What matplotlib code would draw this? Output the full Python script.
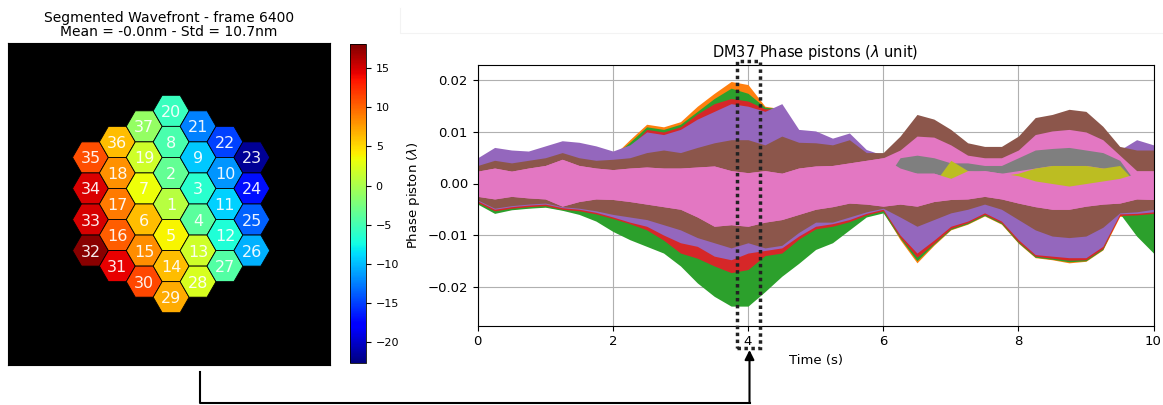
import numpy as np
import matplotlib
matplotlib.use('Agg')
import matplotlib.pyplot as plt
from matplotlib.patches import RegularPolygon, Rectangle, FancyArrowPatch
from matplotlib.collections import PatchCollection
from matplotlib.lines import Line2D

# Segment layout of the DM: columns left to right, segments top to bottom
segment_columns = [
    [35, 34, 33, 32],
    [36, 18, 17, 16, 31],
    [37, 19, 7, 6, 15, 30],
    [20, 8, 2, 1, 5, 14, 29],
    [21, 9, 3, 4, 13, 28],
    [22, 10, 11, 12, 27],
    [23, 24, 25, 26],
]

# Piston of each segment (nm), segment 1 first
segment_piston_nm = [0.6, -3.5, -6.4, -3.9, 3.8, 6.3, 3.4, -4.7, -9.6, -11.7,
                     -9.2, -6.8, 1.8, 6.3, 8.3, 10.4, 9.1, 8.1, 1.8, -5.6,
                     -12.5, -14.9, -21.9, -17.0, -13.7, -10.5, -4.3, 2.2, 7.1, 11.4,
                     14.4, 17.7, 15.0, 14.8, 11.0, 6.3, -1.1]
colorbar_range = (-22.7, 18.1)
colorbar_ticks = [-20, -15, -10, -5, 0, 5, 10, 15]

# Phase piston envelopes (1e-3 lambda)
time_s = [0.0, 0.25, 0.5, 0.75, 1.0, 1.25, 1.5, 1.75, 2.0, 2.25, 2.5, 2.75, 3.0, 3.25,
          3.5, 3.75, 4.0, 4.25, 4.5, 4.75, 5.0, 5.25, 5.5, 5.75, 6.0, 6.25, 6.5, 6.75,
          7.0, 7.25, 7.5, 7.75, 8.0, 8.25, 8.5, 8.75, 9.0, 9.25, 9.5, 9.75, 10.0]

orange_hi = [4.0, 6.0, 5.5, 5.3, 6.3, 7.3, 7.0, 6.3, 5.3, 8.5, 11.5, 11.0, 12.0, 15.0,
             17.5, 19.8, 19.2, 15.0, 14.5, 9.5, 9.2, 7.8, 8.8, 5.6, 4.5, 6.0, 8.0, 7.0,
             6.0, 4.0, 4.5, 4.5, 5.5, 7.0, 7.5, 8.0, 7.5, 7.0, 5.5, 7.5, 6.5]
orange_lo = [-3.8, -5.5, -5.0, -4.7, -4.5, -5.1, -5.5, -6.1, -7.0, -8.0, -9.3, -11.3, -14.0, -15.2,
             -17.0, -18.0, -17.5, -14.5, -13.8, -11.0, -9.0, -8.5, -7.6, -6.3, -5.5, -10.9, -15.4, -12.0,
             -9.0, -7.9, -6.3, -7.9, -11.6, -14.4, -14.8, -15.4, -15.1, -12.9, -6.4, -6.3, -6.0]

green_hi = [4.0, 6.0, 5.5, 5.3, 6.3, 7.3, 7.0, 6.3, 5.3, 8.0, 11.0, 10.5, 11.5, 14.0,
            16.5, 18.5, 17.5, 14.8, 14.5, 9.5, 9.2, 7.8, 8.8, 5.6, 4.5, 6.0, 8.0, 7.0,
            6.0, 4.0, 4.5, 4.5, 5.5, 7.0, 7.5, 8.0, 7.5, 7.0, 5.5, 7.5, 6.5]
green_lo = [-4.0, -5.8, -5.1, -4.8, -4.6, -5.2, -6.0, -7.3, -9.3, -10.9, -12.2, -13.5, -16.0, -19.3,
            -21.9, -23.8, -23.8, -21.0, -18.0, -15.5, -12.8, -11.5, -9.0, -6.5, -5.7, -10.6, -15.0, -11.8,
            -8.9, -7.8, -6.2, -7.8, -11.5, -14.3, -14.7, -15.2, -15.0, -12.8, -5.8, -10.2, -13.5]

red_hi = [4.0, 6.0, 5.5, 5.3, 6.3, 7.3, 7.0, 6.3, 5.3, 7.0, 10.5, 10.0, 11.0, 13.5,
          15.5, 16.5, 16.0, 14.5, 14.5, 9.5, 9.2, 7.8, 8.8, 5.6, 4.5, 6.0, 8.0, 7.0,
          6.0, 4.0, 4.5, 4.5, 5.5, 7.0, 7.5, 8.0, 7.5, 7.0, 5.5, 7.5, 6.5]
red_lo = [-3.7, -5.3, -4.8, -4.5, -4.3, -5.0, -5.3, -5.9, -6.8, -7.8, -9.0, -11.0, -13.5, -14.5,
          -16.0, -17.3, -16.7, -14.0, -13.5, -10.8, -8.8, -8.3, -7.4, -6.1, -5.3, -10.4, -14.3, -11.6,
          -8.7, -7.6, -6.0, -7.6, -11.3, -14.1, -14.5, -14.9, -14.8, -12.6, -6.2, -6.1, -5.8]

purple_hi = [5.0, 7.0, 6.5, 6.3, 7.3, 8.3, 8.0, 7.3, 6.3, 7.5, 10.0, 9.5, 10.5, 12.5,
             14.0, 15.5, 15.0, 14.0, 15.5, 10.5, 10.2, 8.8, 9.8, 6.6, 5.5, 7.0, 9.0, 8.0,
             7.0, 5.0, 5.5, 5.5, 6.5, 8.0, 8.5, 9.0, 8.5, 8.0, 6.5, 8.5, 7.5]
purple_lo = [-3.4, -5.0, -4.5, -4.2, -4.0, -4.7, -5.0, -5.6, -6.5, -7.5, -8.3, -10.0, -11.5, -12.2,
             -14.1, -14.8, -13.5, -13.0, -12.5, -10.2, -8.3, -7.8, -7.0, -5.8, -5.0, -10.0, -13.5, -11.0,
             -8.3, -7.3, -5.7, -7.3, -10.9, -13.8, -14.1, -14.4, -14.4, -12.2, -5.9, -5.8, -5.5]

brown_hi = [3.5, 4.5, 4.0, 4.5, 5.0, 6.0, 5.0, 4.5, 4.7, 5.0, 6.0, 6.5, 6.0, 7.0,
            7.9, 8.5, 8.5, 7.5, 9.2, 8.0, 7.9, 7.5, 8.5, 6.0, 6.0, 9.2, 13.4, 12.5,
            10.5, 7.9, 7.2, 7.2, 9.2, 12.8, 13.4, 14.4, 14.0, 11.1, 7.2, 6.5, 6.5]
brown_lo = [-3.2, -4.8, -4.3, -4.0, -3.8, -4.5, -4.8, -5.3, -6.0, -6.5, -7.0, -8.0, -9.0, -10.5,
            -11.5, -12.5, -11.5, -12.5, -12.0, -9.5, -7.5, -7.5, -6.5, -5.5, -4.8, -6.5, -8.3, -7.0,
            -5.7, -5.0, -4.0, -5.0, -7.0, -9.0, -10.2, -10.5, -10.2, -8.5, -5.7, -5.5, -5.0]

pink_upper_hi = [2.4, 3.0, 2.4, 3.0, 3.5, 4.7, 3.5, 3.0, 2.7, 3.0, 3.2, 3.0, 3.0, 3.2,
                 3.4, 2.5, 2.1, 2.5, 2.0, 3.0, 3.4, 3.5, 4.0, 4.5, 5.0, 6.5, 9.2, 9.0,
                 7.5, 5.5, 5.0, 5.0, 6.5, 9.5, 10.2, 10.5, 10.0, 8.5, 5.5, 2.5, 2.5]
pink_core_hi = [2.4, 3.0, 2.4, 3.0, 3.5, 4.7, 3.5, 3.0, 2.7, 3.0, 3.2, 3.0, 3.0, 3.2,
                3.4, 2.5, 2.1, 2.5, 2.0, 3.0, 3.4, 3.5, 4.0, 4.5, 5.0, 3.0, 2.0, 2.0,
                1.0, 2.5, 2.5, 2.0, 1.5, 0.5, 0.0, -0.5, 0.0, 0.5, 1.0, 2.0, 2.0]
pink_lo = [-2.5, -3.0, -2.5, -2.8, -3.0, -4.4, -3.5, -3.0, -3.1, -3.5, -4.0, -4.5, -5.0, -6.5,
           -8.3, -8.0, -8.3, -7.5, -7.0, -6.0, -5.0, -4.5, -3.8, -4.0, -4.4, -4.0, -4.4, -3.5,
           -3.1, -3.0, -2.5, -3.0, -3.8, -4.5, -5.0, -5.0, -4.4, -4.0, -3.8, -3.0, -3.1]

gray_hi = [0.0, 0.0, 0.0, 0.0, 0.0, 0.0, 0.0, 0.0, 0.0, 0.0, 0.0, 0.0, 0.0, 0.0,
           0.0, 0.0, 0.0, 0.0, 0.0, 0.0, 0.0, 0.0, 0.0, 0.0, 0.0, 5.0, 5.5, 5.0,
           4.0, 4.0, 3.5, 3.5, 5.0, 6.5, 6.8, 7.0, 6.5, 6.0, 4.5, 0.0, 0.0]
gray_lo = [0.0, 0.0, 0.0, 0.0, 0.0, 0.0, 0.0, 0.0, 0.0, 0.0, 0.0, 0.0, 0.0, 0.0,
           0.0, 0.0, 0.0, 0.0, 0.0, 0.0, 0.0, 0.0, 0.0, 0.0, 0.0, 2.5, 2.0, 2.0,
           1.0, 2.0, 2.5, 2.0, 2.5, 3.0, 3.5, 3.5, 3.5, 3.0, 2.5, 0.0, 0.0]

olive_hi = [0.0, 0.0, 0.0, 0.0, 0.0, 0.0, 0.0, 0.0, 0.0, 0.0, 0.0, 0.0, 0.0, 0.0,
            0.0, 0.0, 0.0, 0.0, 0.0, 0.0, 0.0, 0.0, 0.0, 0.0, 0.0, 0.0, 0.0, 0.0,
            4.5, 2.5, 2.0, 1.5, 2.0, 3.0, 3.5, 3.5, 3.5, 3.0, 3.5, 0.0, 0.0]
olive_lo = [0.0, 0.0, 0.0, 0.0, 0.0, 0.0, 0.0, 0.0, 0.0, 0.0, 0.0, 0.0, 0.0, 0.0,
            0.0, 0.0, 0.0, 0.0, 0.0, 0.0, 0.0, 0.0, 0.0, 0.0, 0.0, 0.0, 0.0, 0.0,
            1.0, 1.5, 1.5, 1.0, 0.5, -0.5, -0.5, -1.0, -0.5, 0.0, 0.5, 0.0, 0.0]

W, H = 1163, 405


def fig_box(left, top, right, bottom):
    # pixel box (origin top-left) -> figure fraction rect
    return [left / W, 1 - bottom / H, (right - left) / W, (bottom - top) / H]


fig = plt.figure(figsize=(W / 100, H / 100), dpi=100)

# ---- left: segmented wavefront map ----
ax_img = fig.add_axes(fig_box(8, 43, 330, 365))
cax = fig.add_axes(fig_box(350, 44, 366, 363))

patches = []
values = []
for ci, col in enumerate(segment_columns):
    x = 1.5 * (ci - 3)
    n = len(col)
    for k, seg in enumerate(col):
        y = np.sqrt(3) * ((n - 1) / 2 - k)
        patches.append(RegularPolygon((x, y), 6, radius=1.0, orientation=np.pi / 6))
        values.append(segment_piston_nm[seg - 1])
        ax_img.text(x, y, str(seg), color='white', fontsize=11.5,
                    ha='center', va='center_baseline', alpha=0.92)

coll = PatchCollection(patches, cmap='jet', edgecolor='black', linewidth=0.6)
coll.set_array(np.array(values))
coll.set_clim(*colorbar_range)
ax_img.add_collection(coll)
ax_img.set_xlim(-9.1, 8.86)
ax_img.set_ylim(-8.98, 8.98)
ax_img.set_facecolor('black')
ax_img.set_xticks([])
ax_img.set_yticks([])
ax_img.set_title('Segmented Wavefront - frame 6400\nMean = -0.0nm - Std = 10.7nm',
                 fontsize=10, pad=5, linespacing=1.0)

cb = fig.colorbar(coll, cax=cax)
cb.set_ticks(colorbar_ticks)
cb.ax.tick_params(labelsize=8)
cb.outline.set_linewidth(0.6)

# ---- right: phase pistons vs time ----
ax = fig.add_axes(fig_box(477.7, 65, 1153.5, 325.7))
bands = [
    (orange_lo, orange_hi, 'C1'),
    (green_lo, green_hi, 'C2'),
    (red_lo, red_hi, 'C3'),
    (purple_lo, purple_hi, 'C4'),
    (brown_lo, brown_hi, 'C5'),
    (pink_lo, pink_upper_hi, 'C6'),
    (gray_lo, gray_hi, 'C7'),
    (olive_lo, olive_hi, 'C8'),
    (pink_lo, pink_core_hi, 'C6'),
]
for lo, hi, c in bands:
    ax.fill_between(time_s, np.array(lo) * 1e-3, np.array(hi) * 1e-3, color=c, lw=0)

ax.set_xlim(0, 10)
ax.set_ylim(-0.0276, 0.0230)
ax.set_xticks([0, 2, 4, 6, 8, 10])
ax.set_yticks([-0.02, -0.01, 0.0, 0.01, 0.02])
ax.grid(True)
ax.set_axisbelow(True)
ax.tick_params(labelsize=9.5)
ax.set_title('DM37 Phase pistons ($\\lambda$ unit)', fontsize=10.5)
ax.set_xlabel('Time (s)', fontsize=9.5)
ax.set_ylabel('Phase piston ($\\lambda$)', fontsize=9.5)

# ---- annotations: dotted box around t=4 s and connecting arrow ----
x0, y0, x1, y1 = 736.7 / W, 1 - 348 / H, 760 / W, 1 - 60.7 / H
fig.add_artist(Rectangle((x0, y0), x1 - x0, y1 - y0, transform=fig.transFigure,
                         fill=False, edgecolor='#222222', lw=2.5, ls=(0, (1, 1))))
fig.add_artist(Line2D([200 / W, 200 / W, 749.5 / W], [1 - 372 / H, 1 - 403 / H, 1 - 403 / H],
                      transform=fig.transFigure, color='black', lw=1.5))
fig.add_artist(FancyArrowPatch((749.5 / W, 1 - 403 / H), (749.5 / W, 1 - 350 / H),
                               transform=fig.transFigure, arrowstyle='-|>', mutation_scale=14,
                               lw=1.5, color='black', shrinkA=0, shrinkB=0))
fig.add_artist(Line2D([400 / W, 400 / W, 1.0], [1 - 8 / H, 1 - 33 / H, 1 - 33 / H],
                      transform=fig.transFigure, color='#f3f3f3', lw=0.8))

fig.savefig('out.png', dpi=100)
